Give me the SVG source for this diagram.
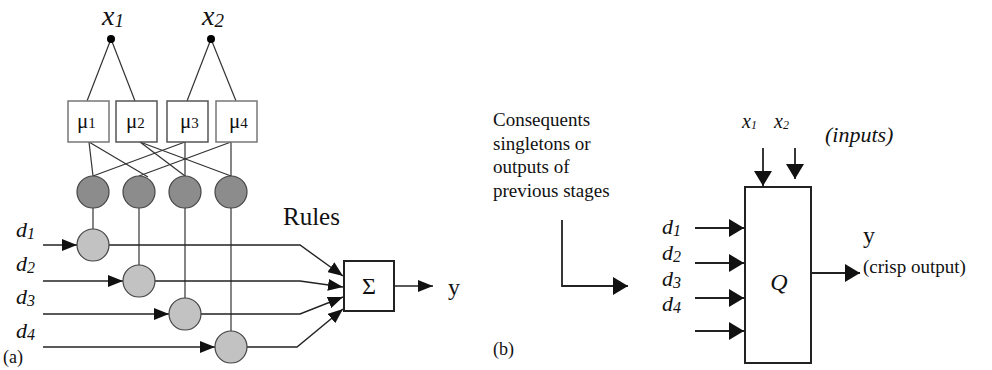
<svg xmlns="http://www.w3.org/2000/svg" width="992" height="370" viewBox="0 0 992 370">
  <style>
    text { font-family: "Liberation Serif", "DejaVu Serif", serif; fill: #111; }
    .it { font-style: italic; }
    .ln { stroke: #222; stroke-width: 1.4; fill: none; }
    .thin { stroke: #333; stroke-width: 1.2; fill: none; }
    .box { fill: #fff; stroke: #777; stroke-width: 1.5; }
    .blk { fill: #fff; stroke: #222; stroke-width: 2; }
    .dark { fill: #8c8c8c; stroke: #444; stroke-width: 1.2; }
    .light { fill: #c2c2c2; stroke: #444; stroke-width: 1.2; }
    .a1 { marker-end: url(#ah); }
    .a2 { marker-end: url(#ahb); }
  </style>
  <defs>
    <marker id="ah" markerUnits="userSpaceOnUse" markerWidth="16" markerHeight="12" refX="15" refY="6" orient="auto">
      <path d="M0,0 L15,6 L0,12 z" fill="#111"/>
    </marker>
    <marker id="ahb" markerUnits="userSpaceOnUse" markerWidth="16" markerHeight="18" refX="15" refY="9" orient="auto">
      <path d="M0,0 L15,9 L0,18 z" fill="#111"/>
    </marker>
  </defs>

  <!-- (a) fuzzy network -->
  <g id="connectors-a">
    <!-- inputs to membership functions -->
    <line class="thin" x1="111" y1="39" x2="87" y2="101"/>
    <line class="thin" x1="111" y1="39" x2="135" y2="101"/>
    <line class="thin" x1="211" y1="39" x2="187" y2="101"/>
    <line class="thin" x1="211" y1="39" x2="236" y2="101"/>
    <!-- membership functions to rules -->
    <line class="thin" x1="89" y1="142" x2="93" y2="176"/>
    <line class="thin" x1="89" y1="142" x2="148" y2="177"/>
    <line class="thin" x1="140" y1="142" x2="185" y2="176"/>
    <line class="thin" x1="140" y1="142" x2="231" y2="176"/>
    <line class="thin" x1="185" y1="142" x2="93" y2="176"/>
    <line class="thin" x1="185" y1="142" x2="185" y2="176"/>
    <line class="thin" x1="231" y1="142" x2="139" y2="176"/>
    <line class="thin" x1="231" y1="142" x2="231" y2="176"/>
    <!-- rule strength to product nodes -->
    <line class="thin" x1="93" y1="208" x2="93" y2="229"/>
    <line class="thin" x1="139" y1="208" x2="139" y2="265"/>
    <line class="thin" x1="185" y1="208" x2="185" y2="298"/>
    <line class="thin" x1="231" y1="208" x2="231" y2="331"/>
    <!-- consequent inputs -->
    <line class="ln a1" x1="43" y1="245" x2="77" y2="245"/>
    <line class="ln a1" x1="43" y1="281" x2="123" y2="281"/>
    <line class="ln a1" x1="43" y1="314" x2="169" y2="314"/>
    <line class="ln a1" x1="43" y1="347" x2="215" y2="347"/>
    <!-- product nodes to sum -->
    <polyline class="ln a1" points="109,245 300,245 343,276"/>
    <polyline class="ln a1" points="155,281 300,281 343,287"/>
    <polyline class="ln a1" points="201,314 300,314 343,297"/>
    <polyline class="ln a1" points="247,347 297,347 343,309"/>
    <!-- output -->
    <line class="ln a1" x1="394" y1="286" x2="433" y2="286"/>
  </g>

  <g id="in-x1">
    <circle cx="111" cy="39" r="4" fill="#000"/>
    <text class="it" x="102" y="25" font-size="28">x<tspan font-size="19" dy="2">1</tspan></text>
  </g>
  <g id="in-x2">
    <circle cx="211" cy="39" r="4" fill="#000"/>
    <text class="it" x="202" y="25" font-size="28">x<tspan font-size="19" dy="2">2</tspan></text>
  </g>

  <g id="mu1"><rect class="box" x="68" y="101" width="41" height="41"/><text x="77" y="128" font-size="21">μ<tspan font-size="15">1</tspan></text></g>
  <g id="mu2"><rect class="box" x="116" y="101" width="41" height="41" style="stroke:#555"/><text x="126" y="128" font-size="21">μ<tspan font-size="15">2</tspan></text></g>
  <g id="mu3"><rect class="box" x="167" y="101" width="41" height="41" style="stroke:#555"/><text x="180" y="128" font-size="21">μ<tspan font-size="15">3</tspan></text></g>
  <g id="mu4"><rect class="box" x="216" y="101" width="41" height="41"/><text x="229" y="128" font-size="21">μ<tspan font-size="15">4</tspan></text></g>

  <g id="rule1"><circle class="dark" cx="93" cy="192" r="16"/></g>
  <g id="rule2"><circle class="dark" cx="139" cy="192" r="16"/></g>
  <g id="rule3"><circle class="dark" cx="185" cy="192" r="16"/></g>
  <g id="rule4"><circle class="dark" cx="231" cy="192" r="16"/></g>

  <g id="prod1"><circle class="light" cx="93" cy="245" r="16"/></g>
  <g id="prod2"><circle class="light" cx="139" cy="281" r="16"/></g>
  <g id="prod3"><circle class="light" cx="185" cy="314" r="16"/></g>
  <g id="prod4"><circle class="light" cx="231" cy="347" r="16"/></g>

  <g id="labels-d-a">
    <text class="it" x="16" y="237" font-size="22">d<tspan font-size="16" dy="2">1</tspan></text>
    <text class="it" x="16" y="271" font-size="22">d<tspan font-size="16" dy="2">2</tspan></text>
    <text class="it" x="16" y="304" font-size="22">d<tspan font-size="16" dy="2">3</tspan></text>
    <text class="it" x="16" y="338" font-size="22">d<tspan font-size="16" dy="2">4</tspan></text>
    <text x="3" y="363" font-size="18">(a)</text>
  </g>

  <g id="sum">
    <rect class="blk" x="344" y="261" width="50" height="50"/>
    <text x="369" y="294" font-size="24" text-anchor="middle">Σ</text>
  </g>
  <text x="283" y="225" font-size="25">Rules</text>
  <text x="448" y="295" font-size="24">y</text>

  <!-- (b) block view -->
  <g id="note-b">
    <text x="493" y="126" font-size="19">Consequents</text>
    <text x="493" y="150" font-size="19">singletons or</text>
    <text x="493" y="173" font-size="19">outputs of</text>
    <text x="493" y="197" font-size="19">previous stages</text>
    <text x="493" y="355" font-size="18">(b)</text>
  </g>

  <g id="connectors-b">
    <polyline class="ln a2" points="562,220 562,286 628,286" style="stroke-width:1.8"/>
    <line class="ln a2" x1="695" y1="228" x2="744" y2="228" style="stroke-width:1.8"/>
    <line class="ln a2" x1="695" y1="263" x2="744" y2="263" style="stroke-width:1.8"/>
    <line class="ln a2" x1="695" y1="298" x2="744" y2="298" style="stroke-width:1.8"/>
    <line class="ln a2" x1="695" y1="331" x2="744" y2="331" style="stroke-width:1.8"/>
    <line class="ln a2" x1="763" y1="148" x2="763" y2="186" style="stroke-width:1.8"/>
    <line class="ln a2" x1="795" y1="148" x2="795" y2="179" style="stroke-width:1.8"/>
    <line class="ln a2" x1="811" y1="273" x2="860" y2="273" style="stroke-width:1.8"/>
  </g>

  <g id="labels-d-b">
    <text class="it" x="662" y="234" font-size="22">d<tspan font-size="16" dy="2">1</tspan></text>
    <text class="it" x="662" y="260" font-size="22">d<tspan font-size="16" dy="2">2</tspan></text>
    <text class="it" x="662" y="286" font-size="22">d<tspan font-size="16" dy="2">3</tspan></text>
    <text class="it" x="662" y="311" font-size="22">d<tspan font-size="16" dy="2">4</tspan></text>
  </g>

  <g id="block-q">
    <rect class="blk" x="745" y="187" width="66" height="176"/>
    <text class="it" x="779" y="290" font-size="24" text-anchor="middle">Q</text>
  </g>
  <text class="it" x="742" y="128" font-size="20">x<tspan font-size="12" dy="1">1</tspan></text>
  <text class="it" x="774" y="128" font-size="20">x<tspan font-size="12" dy="1">2</tspan></text>
  <text class="it" x="825" y="142" font-size="22">(inputs)</text>
  <text x="863" y="243" font-size="24">y</text>
  <text x="863" y="273" font-size="19">(crisp output)</text>
</svg>
